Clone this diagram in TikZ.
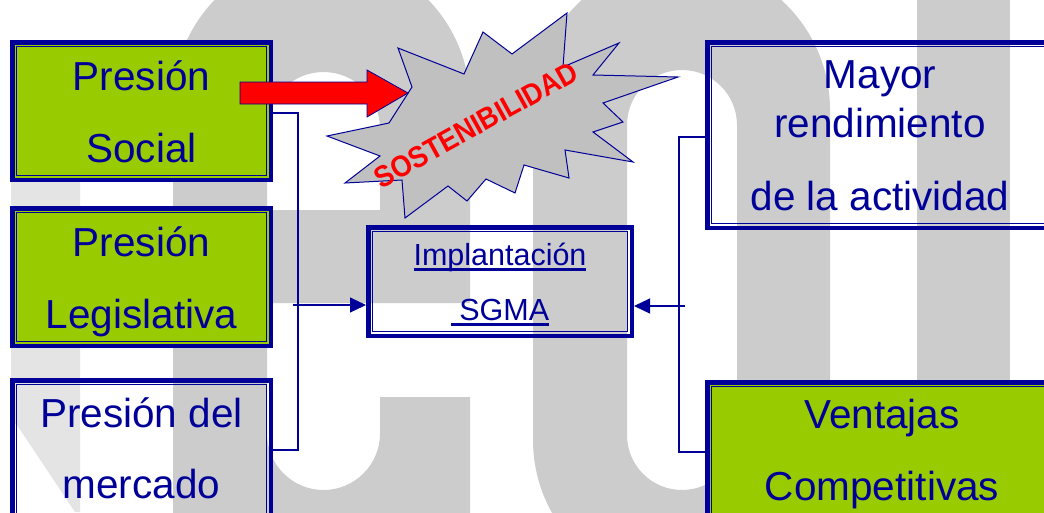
\documentclass[tikz,border=0pt]{standalone}
\usepackage{fontspec}
\usepackage{graphicx}
\setmainfont{Liberation Sans}
\usetikzlibrary{arrows.meta,calc}
\definecolor{dblue}{HTML}{000099}
\definecolor{lgreen}{HTML}{99CC00}
\definecolor{wgray}{HTML}{CCCCCC}
\definecolor{lgray}{HTML}{E4E4E4}
\definecolor{starfill}{HTML}{C0C0C0}
\newsavebox\ulbox
\newcommand\myul[1]{\sbox\ulbox{#1}\rlap{\rule[-5.5pt]{\wd\ulbox}{2.5pt}}\usebox\ulbox}
\tikzset{
  box/.style={draw=dblue, line width=4.5pt, inner sep=0pt, outer sep=2.25pt, anchor=north west,
    path picture={\draw[dblue, line width=1pt]
      ([shift={(4.5,4.5)}]path picture bounding box.north west) rectangle
      ([shift={(-4.5,-4.5)}]path picture bounding box.south east);}},
  gbox/.style={box, fill=lgreen},
  txt/.style={text=dblue, font=\fontsize{40.5}{48}\selectfont, inner sep=0pt, anchor=base},
  smalltxt/.style={txt, font=\fontsize{30.5}{36}\selectfont},
  conn/.style={draw=dblue, line width=1.2pt},
  arr/.style={conn, -{Triangle[length=16pt,width=15pt]}},
}
\begin{document}
\begin{tikzpicture}[x=1pt,y=-1pt]
\useasboundingbox (0,0) rectangle (1044,512);
\clip (0,0) rectangle (1044,512);
\fill[white] (0,0) rectangle (1044,512);
% watermark
\fill[lgray] (11,150) -- (80,150) -- (80,512) -- (75,512) -- (17,425) -- (11,420) -- cycle;
\fill[wgray, even odd rule] (173,600) -- (173,103) arc[start angle=180, end angle=360, radius=148.5]
  -- (470,303) -- (267,303) -- (267,433.5) arc[start angle=180, end angle=0, radius=56.5]
  -- (380,397) -- (470,397) -- (470,600) -- cycle
  (267,210) -- (267,128.5) arc[start angle=180, end angle=360, radius=56.5] -- (380,210) -- cycle;
\fill[wgray, even odd rule] (533,440) -- (533,110) arc[start angle=180, end angle=360, radius=148.5]
  -- (830,440) arc[start angle=0, end angle=180, radius=148.5] -- cycle
  (627,435) -- (627,125) arc[start angle=180, end angle=360, radius=55]
  -- (737,435) arc[start angle=0, end angle=180, radius=55] -- cycle;
\fill[wgray] (917,-10) rectangle (1010,600);
% boxes
\node[gbox, minimum width=258.5pt, minimum height=137.5pt] (social) at (10,40) {};
\node[gbox, minimum width=258.5pt, minimum height=137.5pt] (legis) at (10,206) {};
\node[box, minimum width=258.5pt, minimum height=222pt] (mercado) at (10,378) {};
\node[box, minimum width=345.5pt, minimum height=185.5pt] (mayor) at (705,40) {};
\node[gbox, minimum width=345.5pt, minimum height=200pt] (ventajas) at (705,380) {};
\node[box, minimum width=263.5pt, minimum height=108.5pt] (sgma) at (366,225) {};
% connectors
\coordinate (lbot) at (298,450);
\coordinate (lin) at (293,305);
\coordinate (rbot) at (679,452);
\coordinate (rin) at (685,306);
\draw[conn] ($(social.east)+(0,2)$) -| (lbot) -- (lbot -| mercado.east);
\draw[arr] (lin) -- (lin -| sgma.west);
\draw[conn] ($(mayor.west)+(0,2)$) -| (rbot) -- (rbot -| ventajas.west);
\draw[arr] (rin) -- (rin -| sgma.east);
% star
\filldraw[fill=starfill, draw=dblue, line width=1pt]
  (567,13) -- (563,67) -- (619,43) -- (593,75) -- (678,77) -- (603,103) -- (623,122)
  -- (593,132) -- (633,162) -- (565,150) -- (569,178) -- (524,165) -- (515,193)
  -- (486,179) -- (467,201) -- (448,186) -- (405,218) -- (402,180) -- (345,183)
  -- (380,156) -- (327,136) -- (389,123) -- (412,87) -- (398,48) -- (464,74)
  -- (483,32) -- (512,54) -- cycle;
\node[text=red, font=\bfseries\fontsize{30}{34}\selectfont, rotate=29, inner sep=0pt] (sost) at (476,125) {\scalebox{0.9}[1]{SOSTENIBILIDAD}};
% red arrow
\filldraw[fill=red, draw=dblue, line width=0.8pt]
  (240,82) -- (367,82) -- (367,70) -- (408,93) -- (367,117) -- (367,104) -- (240,104) -- cycle;
% texts
\node[txt] (socA) at (141.5,90) {Presión};
\node[txt] (socB) at (141.5,162) {Social};
\node[txt] (legA) at (141.5,256) {Presión};
\node[txt] (legB) at (141.5,328) {Legislativa};
\node[txt] (merA) at (141.5,427) {Presión del};
\node[txt] (merB) at (141.5,498) {mercado};
\node[txt] (mayA) at (880,88) {Mayor};
\node[txt] (mayB) at (880,137) {rendimiento};
\node[txt] (mayC) at (880,210) {de la actividad};
\node[txt] (venA) at (882,428) {Ventajas};
\node[txt] (venB) at (882,500) {Competitivas};
\node[smalltxt] (impA) at (500,265) {\myul{Implantación}};
\node[smalltxt] (impB) at (500,320) {\myul{\ SGMA}};
\end{tikzpicture}
\end{document}
